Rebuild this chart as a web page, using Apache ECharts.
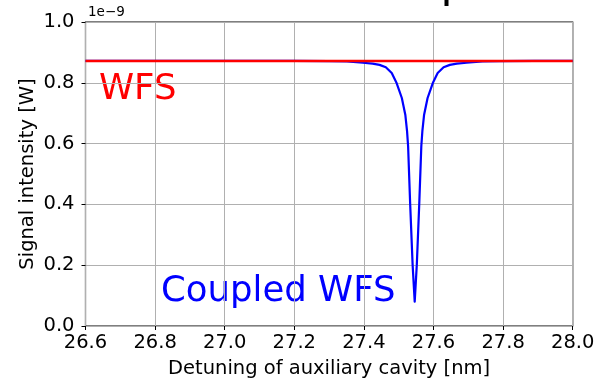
<!DOCTYPE html>
<html>
<head>
<meta charset="utf-8">
<script src="https://cdn.jsdelivr.net/npm/echarts@6/dist/echarts.min.js"></script>
<style>
  html, body { margin: 0; padding: 0; background: #fff; }
  #chart { width: 595px; height: 380px; }
</style>
</head>
<body>
<div id="chart"></div>
<script>
// values in units of 1e-9 W
const xTicks = [26.6, 26.8, 27.0, 27.2, 27.4, 27.6, 27.8, 28.0];
const yTicks = [0.0, 0.2, 0.4, 0.6, 0.8, 1.0];

const wfsX = [26.6, 28.0];
const wfsY = [0.872, 0.872];

const coupledX = [
  26.6, 27.2, 27.3, 27.351, 27.397, 27.425, 27.445, 27.463, 27.48, 27.494, 27.509,
  27.519, 27.524, 27.527, 27.533, 27.54, 27.546,
  27.552, 27.559, 27.565, 27.568, 27.573, 27.583, 27.598, 27.612, 27.629,
  27.647, 27.667, 27.695, 27.741, 27.79, 27.89, 28.0
];
const coupledY = [
  0.872, 0.872, 0.871, 0.870, 0.866, 0.863, 0.859, 0.851, 0.832, 0.799, 0.750,
  0.695, 0.641, 0.592, 0.400, 0.201, 0.080,
  0.201, 0.400, 0.592, 0.641, 0.695, 0.750, 0.799, 0.832, 0.851,
  0.859, 0.863, 0.866, 0.870, 0.871, 0.872, 0.872
];

const FONT = 'DejaVu Sans';

const chart = echarts.init(document.getElementById('chart'));
const option = {
  animation: false,
  grid: {
    left: 85.5,
    right: 22.3,
    top: 22,
    bottom: 54,
    outerBoundsMode: 'none',
    containLabel: false,
    show: true,
    borderColor: '#000',
    borderWidth: 1.2,
    backgroundColor: 'transparent',
  },
  xAxis: {
    type: 'value',
    min: xTicks[0],
    max: xTicks[xTicks.length - 1],
    interval: 0.2,
    name: 'Detuning of auxiliary cavity [nm]',
    nameLocation: 'middle',
    nameGap: 33,
    nameMoveOverlap: false,
    nameTextStyle: { fontFamily: FONT, fontSize: 19.5, color: '#000' },
    axisLine: { show: false },
    axisTick: { show: true, inside: false, length: 4, lineStyle: { color: '#000', width: 1 } },
    axisLabel: {
      fontFamily: FONT, fontSize: 19.5, color: '#000', margin: 7,
      formatter: v => v.toFixed(1),
    },
    splitLine: { show: true, lineStyle: { color: '#b0b0b0', width: 1 } },
  },
  yAxis: {
    type: 'value',
    min: yTicks[0],
    max: yTicks[yTicks.length - 1],
    interval: 0.2,
    name: 'Signal intensity [W]',
    nameLocation: 'middle',
    nameRotate: 90,
    nameGap: 48,
    nameMoveOverlap: false,
    nameTextStyle: { fontFamily: FONT, fontSize: 19.5, color: '#000' },
    axisLine: { show: false },
    axisTick: { show: true, inside: false, length: 4, lineStyle: { color: '#000', width: 1 } },
    axisLabel: {
      fontFamily: FONT, fontSize: 19.5, color: '#000', margin: 11,
      formatter: v => v.toFixed(1),
    },
    splitLine: { show: true, lineStyle: { color: '#b0b0b0', width: 1 } },
  },
  graphic: [
    { type: 'text', left: 88, top: 5, style: { text: '1e\u22129', fontFamily: FONT, fontSize: 13.5, fill: '#000' } },
    { type: 'rect', shape: { x: 444.5, y: 0, width: 4, height: 6 }, style: { fill: '#000' } },
    { type: 'text', x: 99, y: 90, style: { text: 'WFS', fontFamily: FONT, fontSize: 35.5, fill: '#ff0000', verticalAlign: 'middle' } },
    { type: 'text', x: 161, y: 292, style: { text: 'Coupled WFS', fontFamily: FONT, fontSize: 35.5, fill: '#0000ff', verticalAlign: 'middle' } },
  ],
  series: [
    {
      name: 'Coupled WFS',
      type: 'line',
      data: coupledX.map((x, i) => [x, coupledY[i]]),
      showSymbol: false,
      smooth: false,
      lineStyle: { color: '#0000ff', width: 2.2, join: 'round' },
      z: 2,
    },
    {
      name: 'WFS',
      type: 'line',
      data: wfsX.map((x, i) => [x, wfsY[i]]),
      showSymbol: false,
      lineStyle: { color: '#ff0000', width: 2.5 },
      z: 3,
    },
  ],
};
chart.setOption(option);
</script>
</body>
</html>
